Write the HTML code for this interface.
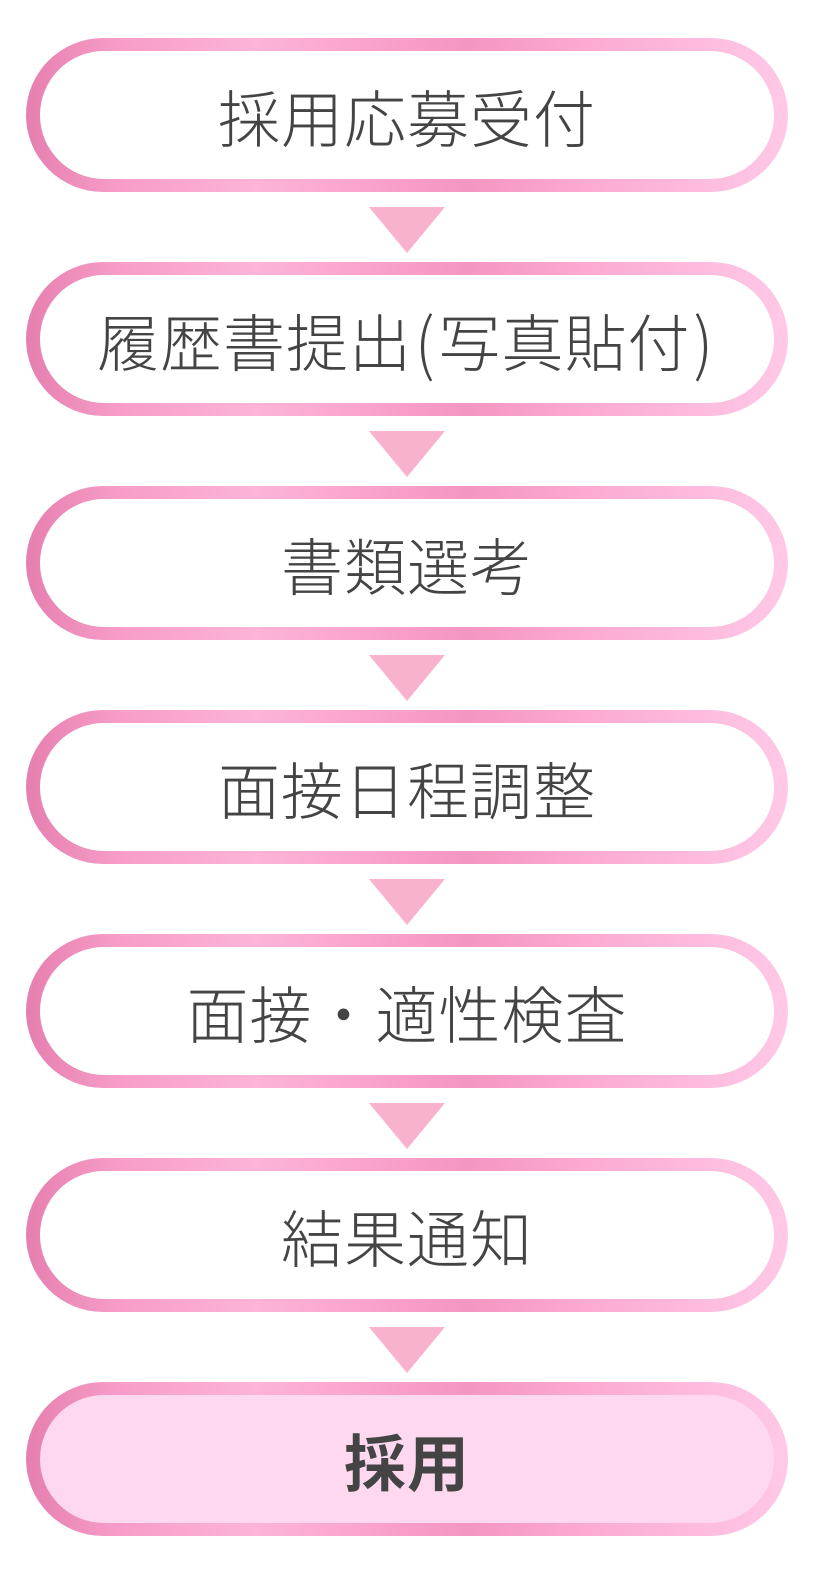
<!DOCTYPE html>
<html><head><meta charset="utf-8"><style>
body{margin:0;width:823px;height:1574px;background:#fff;position:relative;font-family:"Liberation Sans","Noto Sans CJK JP",sans-serif;}
.p{position:absolute;left:26px;width:762px;height:154px;border-radius:77px;box-sizing:border-box;
background:linear-gradient(90deg,#e57fae 0%,#f79cc8 12%,#fdb4d6 30%,#fba6cf 42%,#f496c1 58%,#fba8d0 72%,#ffc9e6 100%);}
.p div{position:absolute;left:14px;top:13px;right:14px;bottom:13px;border-radius:64px;background:#fff;
display:flex;align-items:center;justify-content:center;font-size:62px;font-weight:300;color:#444;letter-spacing:1px;white-space:nowrap;}
.p.last div{background:#fdd8ef;font-weight:700;}
.pr{font-family:"Noto Sans CJK JP",sans-serif;font-weight:300;display:inline-block;transform:scaleY(1.1);margin:0 3px;}
.t{position:absolute;left:369px;width:0;height:0;border-left:38px solid transparent;border-right:38px solid transparent;border-top:46px solid #f9b2cd;}
</style></head><body>
<div class="p" style="top:38px"><div>採用応募受付</div></div>
<div class="t" style="top:207px"></div>
<div class="p" style="top:262px"><div>履歴書提出<span class="pr">(</span>写真貼付<span class="pr">)</span></div></div>
<div class="t" style="top:431px"></div>
<div class="p" style="top:486px"><div>書類選考</div></div>
<div class="t" style="top:655px"></div>
<div class="p" style="top:710px"><div>面接日程調整</div></div>
<div class="t" style="top:879px"></div>
<div class="p" style="top:934px"><div>面接・適性検査</div></div>
<div class="t" style="top:1103px"></div>
<div class="p" style="top:1158px"><div>結果通知</div></div>
<div class="t" style="top:1327px"></div>
<div class="p last" style="top:1382px"><div>採用</div></div>
</body></html>
